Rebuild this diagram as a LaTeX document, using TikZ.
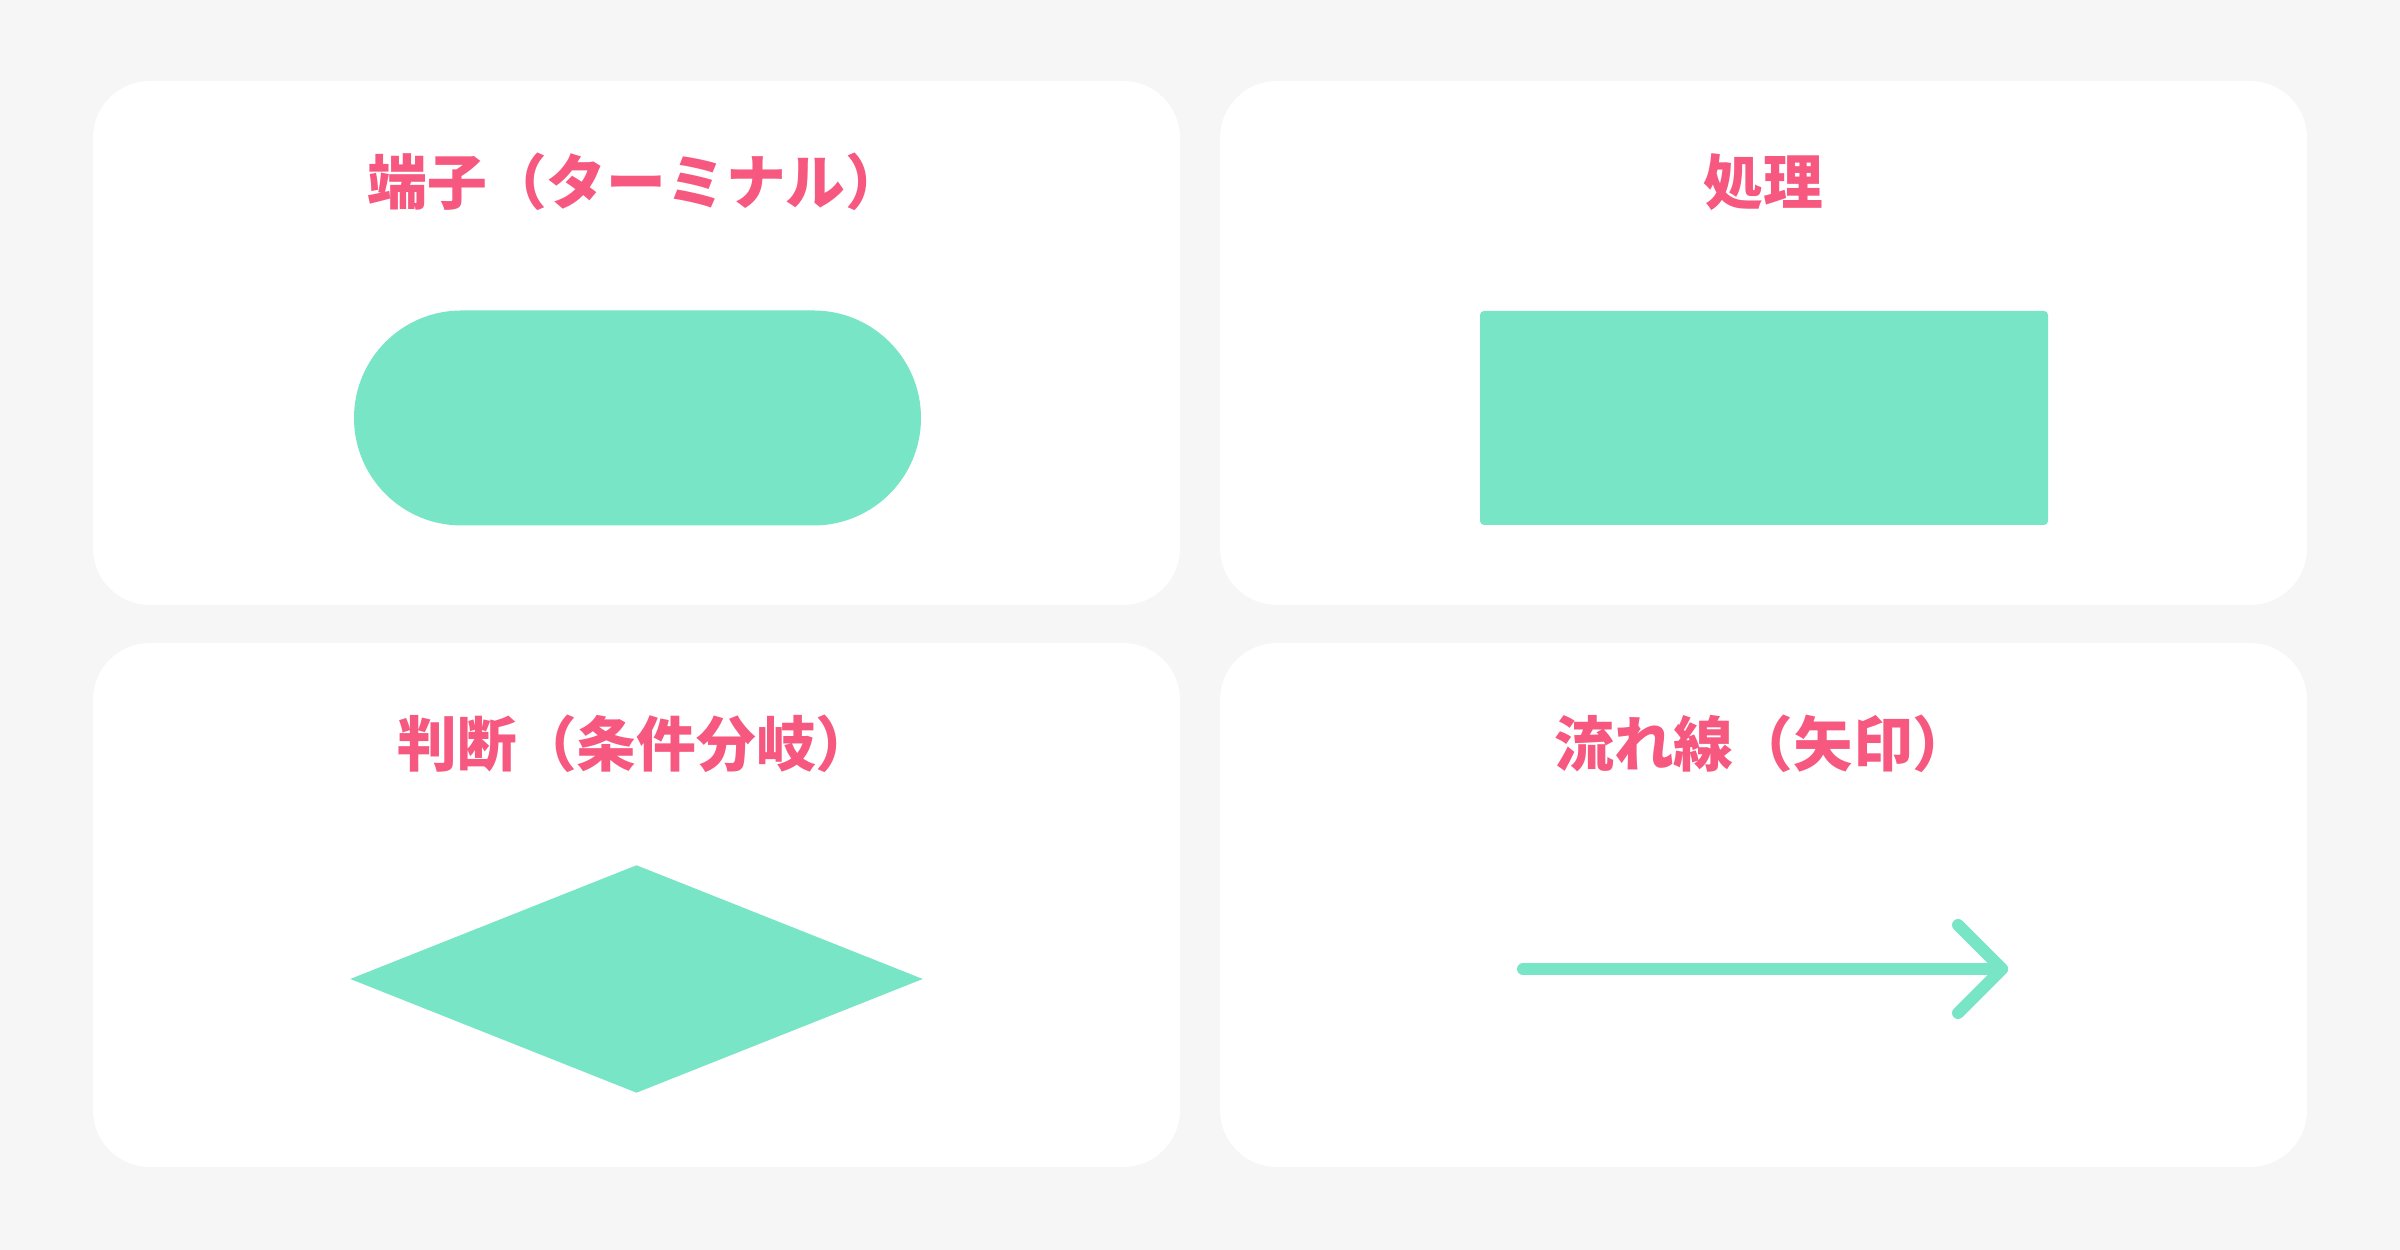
\documentclass[tikz,border=0pt]{standalone}
\usepackage{fontspec}
\newfontfamily\cjk{Noto Sans CJK JP}
\usepackage{tikz}
\usetikzlibrary{positioning, calc, shapes.geometric}
\definecolor{bgray}{HTML}{F6F6F6}
\definecolor{tpink}{HTML}{F65880}
\definecolor{sgreen}{HTML}{78E6C6}
\tikzset{
    panel/.style={fill=white, rounded corners=5.7mm, inner sep=0,
        minimum width=10.87cm, minimum height=5.24cm},
    title/.style={text=tpink, font=\cjk\bfseries\fontsize{17}{20}\selectfont,
        anchor=base, inner sep=0},
    shapefill/.style={fill=sgreen, inner sep=0},
    flowline/.style={draw=sgreen, line width=0.12cm, line cap=round, line join=round}
}
\begin{document}
\begin{tikzpicture}[x=0.1mm, y=0.1mm]
    % background
    \fill[bgray] (0,0) rectangle (2400,1250);
    \useasboundingbox (0,0) rectangle (2400,1250);

    % panels and titles
    \foreach \name/\cx/\cy/\label in {
        term/636.5/907/端子（ターミナル）,
        proc/1763.5/907/処理,
        cond/636.5/345/判断（条件分岐）,
        flow/1763.5/345/流れ線（矢印）}{

        \node[panel] (\name) at (\cx,\cy) {};
        \node[title] (\name-title) at ($(\name.north)+(0,-124)$) {\label};
    }

    % shapes
    \node[shapefill, rounded corners=1.075cm, minimum width=5.67cm, minimum height=2.15cm]
        (stadium) at ($(term.center)+(1,-75)$) {};
    \node[shapefill, rounded corners=0.4mm, minimum width=5.68cm, minimum height=2.14cm]
        (box) at ($(proc.center)+(0.5,-75)$) {};
    \node[shapefill, diamond, minimum width=5.73cm, minimum height=2.28cm]
        (rhombus) at ($(cond.center)+(0,-74)$) {};

    % arrow
    \coordinate (a-start) at ($(flow.center)+(-240.5,-64)$);
    \coordinate (a-tip) at ($(flow.center)+(238.5,-64)$);
    \coordinate (a-up) at ($(a-tip)+(-44,44)$);
    \coordinate (a-down) at ($(a-tip)+(-44,-44)$);
    \draw[flowline] (a-start) -- (a-tip);
    \draw[flowline] (a-up) -- (a-tip) -- (a-down);
\end{tikzpicture}
\end{document}
